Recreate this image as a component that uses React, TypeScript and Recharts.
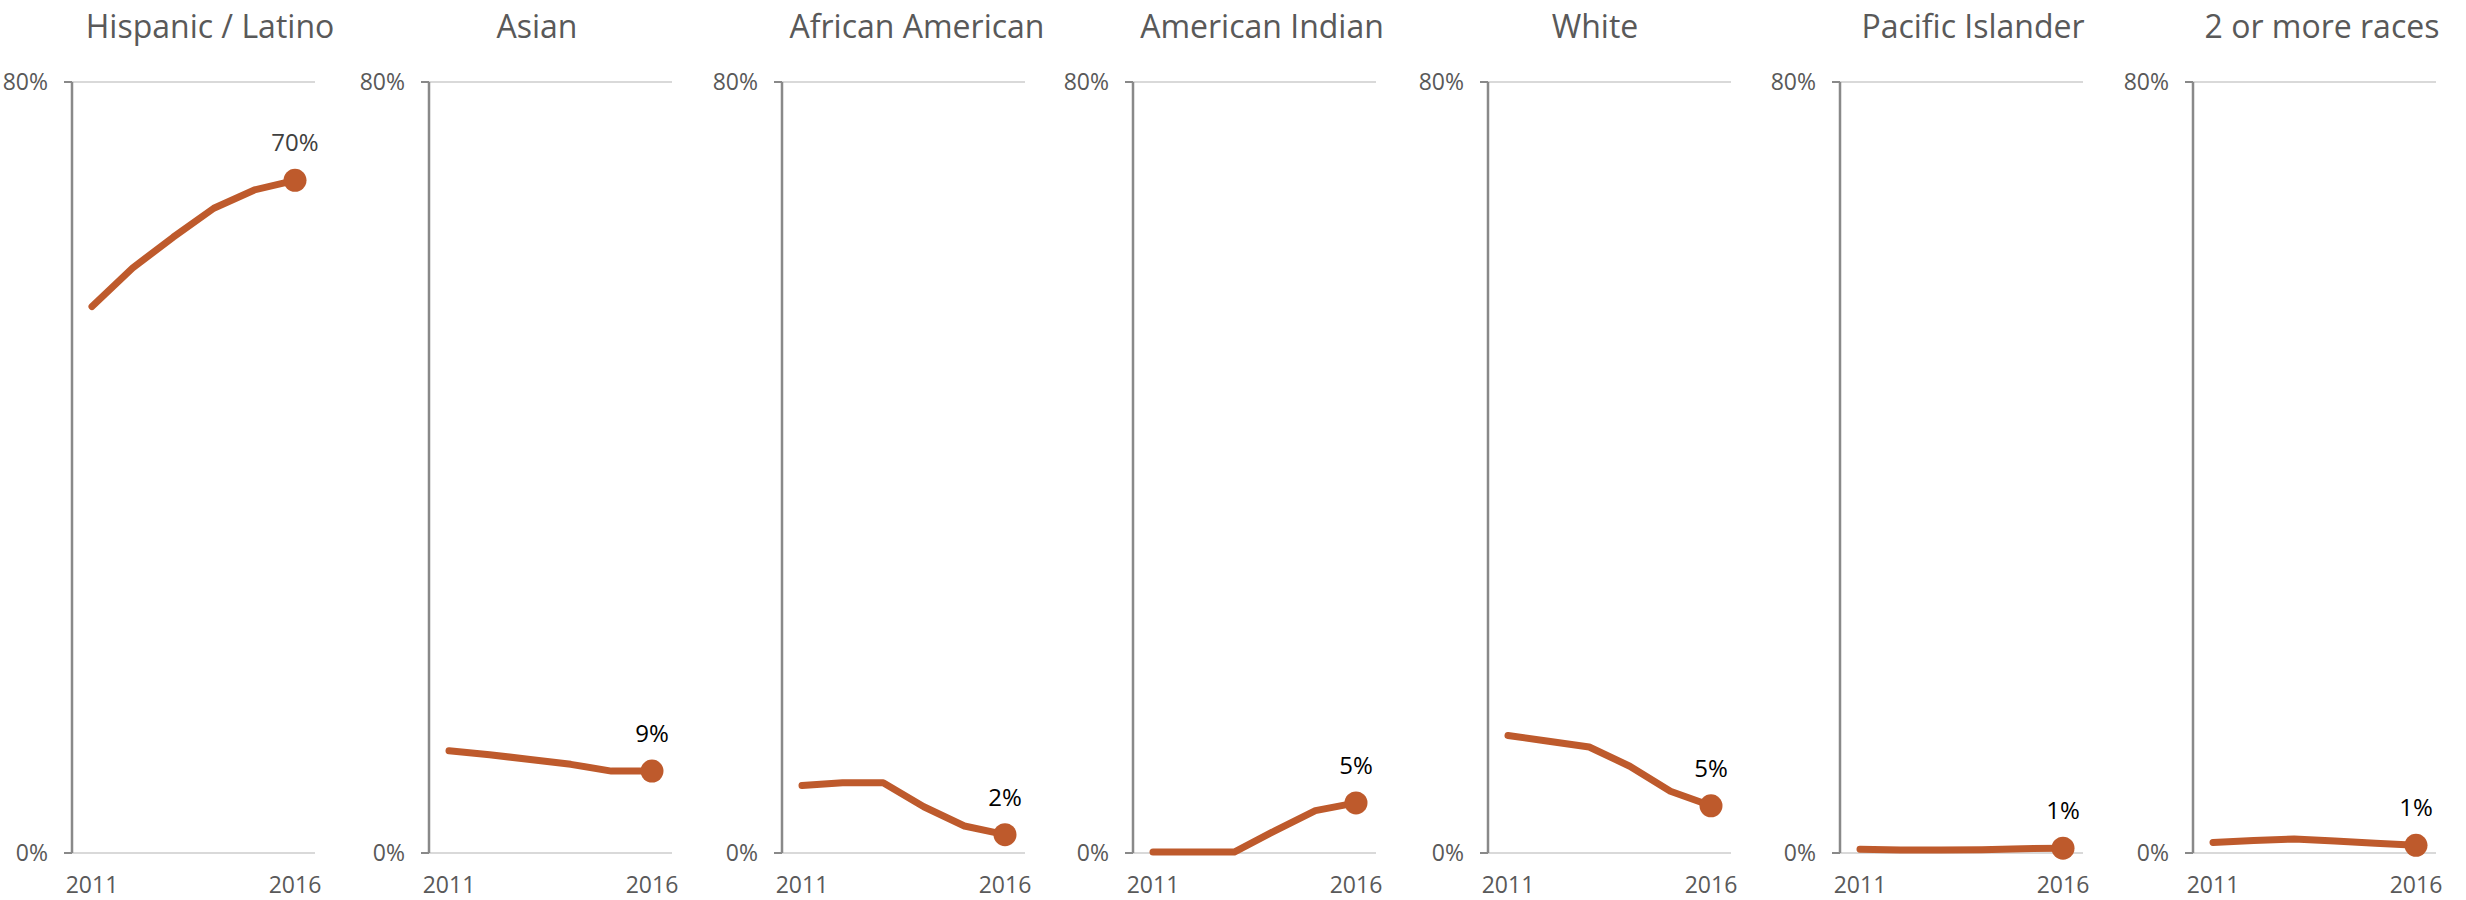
import { LineChart, Line, XAxis, YAxis, CartesianGrid } from "recharts";

// shares of enrolment by group, 2011-2016 (percent)
const years = ["2011", "2012", "2013", "2014", "2015", "2016"];
const groups = [
  "Hispanic / Latino",
  "Asian",
  "African American",
  "American Indian",
  "White",
  "Pacific Islander",
  "2 or more races",
];
const hispanic = [56.7, 60.7, 63.9, 66.9, 68.8, 69.8];
const asian = [10.6, 10.2, 9.7, 9.2, 8.5, 8.5];
const african = [7.0, 7.3, 7.3, 4.8, 2.8, 1.9];
const americanIndian = [0.1, 0.1, 0.1, 2.3, 4.4, 5.2];
const white = [12.2, 11.6, 11.0, 9.0, 6.4, 4.9];
const pacific = [0.4, 0.3, 0.3, 0.35, 0.45, 0.5];
const multiRace = [1.1, 1.3, 1.45, 1.25, 1.0, 0.8];
const endLabels = ["70%", "9%", "2%", "5%", "5%", "1%", "1%"];
const yTicks = [0, 80];
const shownYears = ["2011", "2016"];

const series = [hispanic, asian, african, americanIndian, white, pacific, multiRace];

// layout of the small multiples
const axisX = [72, 429, 782, 1133, 1488, 1840, 2193];
const titleX = [210, 537, 917, 1262, 1595, 1973, 2322];
const labelColors = ["#404040", "#000", "#000", "#000", "#000", "#000", "#000"];

const ORANGE = "#BE5A2C";
const GREY = "#595959";
const FONT = "'Open Sans', sans-serif";
const Y_AXIS_W = 72;
const PANEL_W = 353;

function Panel({ idx }: { idx: number }) {
  const values = series[idx];
  const rows = years.map((year, i) => ({ year, v: values[i] }));
  const last = rows.length - 1;

  const renderDot = (props: any) => {
    const { cx, cy, index } = props;
    if (index !== last) return <g key={`d${index}`} />;
    return (
      <g key={`d${index}`}>
        <circle cx={cx} cy={cy} r={11.5} fill={ORANGE} />
        <text
          x={cx}
          y={cy - 29}
          textAnchor="middle"
          fontSize={24}
          fontFamily={FONT}
          fill={labelColors[idx]}
        >
          {endLabels[idx]}
        </text>
      </g>
    );
  };

  return (
    <div style={{ position: "absolute", left: axisX[idx] - Y_AXIS_W, top: 0 }}>
      <LineChart
        width={PANEL_W}
        height={900}
        data={rows}
        margin={{ top: 82, right: 38, bottom: 0, left: 0 }}
      >
        <CartesianGrid vertical={false} stroke="#d9d9d9" strokeWidth={2} />
        <XAxis
          dataKey="year"
          axisLine={false}
          tickLine={false}
          tickSize={0}
          tickMargin={24}
          height={47}
          interval={0}
          padding={{ left: 20, right: 20 }}
          tickFormatter={(y: string) => (shownYears.includes(y) ? y : "")}
          tick={{ fill: GREY, fontSize: 23, fontFamily: FONT }}
        />
        <YAxis
          width={Y_AXIS_W}
          domain={[0, 80]}
          ticks={yTicks}
          tickFormatter={(v: number) => `${v}%`}
          axisLine={{ stroke: "#898989", strokeWidth: 2.5 }}
          tickLine={{ stroke: "#898989", strokeWidth: 2 }}
          tickSize={8}
          tickMargin={16}
          tick={{ fill: GREY, fontSize: 23, fontFamily: FONT }}
        />
        <Line
          type="linear"
          dataKey="v"
          stroke={ORANGE}
          strokeWidth={7}
          strokeLinecap="round"
          strokeLinejoin="round"
          dot={renderDot}
          activeDot={false}
          isAnimationActive={false}
        />
      </LineChart>
      <div
        style={{
          position: "absolute",
          left: titleX[idx] - axisX[idx] + Y_AXIS_W,
          top: 10,
          transform: "translateX(-50%)",
          whiteSpace: "nowrap",
          fontFamily: FONT,
          fontSize: 32,
          lineHeight: "32px",
          color: GREY,
        }}
      >
        {groups[idx]}
      </div>
    </div>
  );
}

export default function App() {
  return (
    <div
      style={{
        position: "absolute",
        left: 0,
        top: 0,
        width: 2466,
        height: 900,
        overflow: "hidden",
        background: "#fff",
      }}
    >
      {groups.map((g, i) => (
        <Panel key={g} idx={i} />
      ))}
    </div>
  );
}
